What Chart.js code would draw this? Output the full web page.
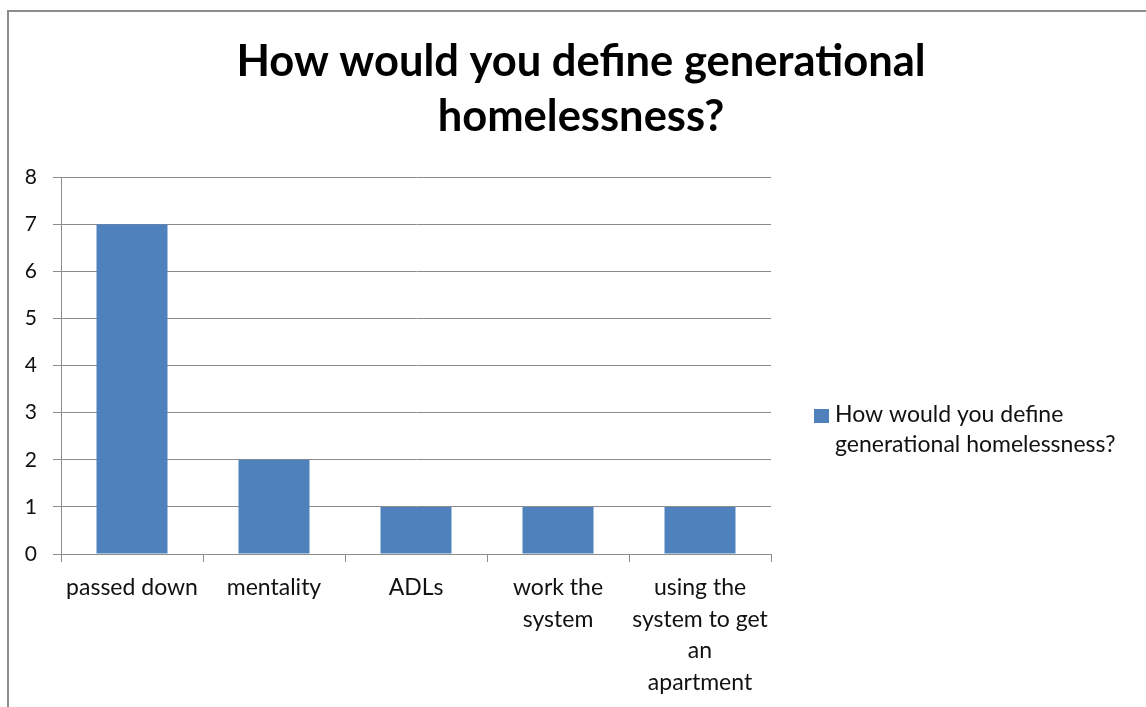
<!DOCTYPE html>
<html>
<head>
<meta charset="utf-8">
<script src="https://cdn.jsdelivr.net/npm/chart.js@4"></script>
<style>
  html, body { margin: 0; padding: 0; background: #fff; overflow: hidden; }
  #frame {
    position: absolute; left: 7px; top: 10px;
    width: 1160px; height: 720px;
    border: 2px solid #8c8c8c;
    box-sizing: border-box;
  }
  #wrap { position: absolute; left: 1px; top: 1px; width: 1146px; height: 696px; }
</style>
</head>
<body>
<div id="frame"><div id="wrap"><canvas id="chart"></canvas></div></div>
<script>
const titleLines = ['How would you define generational', 'homelessness?'];
const seriesName = 'How would you define generational homelessness?';
const legendLines = ['How would you define', 'generational homelessness?'];
const categories = [
  'passed down',
  'mentality',
  'ADLs',
  ['work the', 'system'],
  ['using the', 'system to get', 'an', 'apartment']
];
const counts = [7, 2, 1, 1, 1];
const yTicks = [0, 1, 2, 3, 4, 5, 6, 7, 8];

const barColor = '#4f81bd';
const gridColor = '#8c8c8c';
const textFont = 'Lato, "Open Sans", sans-serif';

// title spans the whole chart width, not just the plot, so draw it here
const wideTitle = {
  id: 'wideTitle',
  afterDraw(chart) {
    const ctx = chart.ctx;
    ctx.save();
    ctx.fillStyle = '#000';
    ctx.font = 'bold 43.5px Lato, "Liberation Sans", sans-serif';
    ctx.textAlign = 'center';
    ctx.textBaseline = 'alphabetic';
    titleLines.forEach((line, i) => {
      ctx.fillText(line, 571, 63 + i * 55);
    });
    ctx.restore();
  }
};

// legend is drawn by hand so the series name can wrap onto two lines
const sideLegend = {
  id: 'sideLegend',
  afterDraw(chart) {
    const ctx = chart.ctx;
    const x = 804, y = 396;
    ctx.save();
    ctx.fillStyle = chart.data.datasets[0].backgroundColor;
    ctx.fillRect(x, y, 15, 14);
    ctx.fillStyle = '#111';
    ctx.font = '23px ' + textFont;
    ctx.textBaseline = 'alphabetic';
    legendLines.forEach((line, i) => {
      ctx.fillText(line, x + 21, y + 13 + i * 30);
    });
    ctx.restore();
  }
};

const chart = new Chart(document.getElementById('chart'), {
  type: 'bar',
  data: {
    labels: categories,
    datasets: [{
      label: seriesName,
      data: counts,
      backgroundColor: barColor,
      barPercentage: 0.5,
      categoryPercentage: 1.0
    }]
  },
  options: {
    responsive: true,
    maintainAspectRatio: false,
    animation: false,
    layout: { padding: { left: 0, right: 385, top: 164, bottom: 0 } },
    plugins: {
      legend: { display: false },
      tooltip: { enabled: false },
      title: { display: false }
    },
    scales: {
      x: {
        grid: {
          drawOnChartArea: false,
          drawTicks: true,
          tickLength: 8,
          color: gridColor,
          offset: true
        },
        border: { color: gridColor, width: 1 },
        ticks: {
          color: '#111',
          font: { family: textFont, size: 23, lineHeight: 1.37 },
          padding: 10,
          maxRotation: 0,
          autoSkip: false
        },
        afterFit(scale) { scale.height = 155; }
      },
      y: {
        min: 0,
        max: 8,
        afterBuildTicks(scale) { scale.ticks = yTicks.map(v => ({ value: v })); },
        grid: { color: gridColor, tickLength: 8, drawTicks: true },
        border: { color: gridColor, width: 1 },
        ticks: {
          color: '#111',
          font: { family: textFont, size: 21 },
          padding: 16
        },
        afterFit(scale) { scale.width = 51; }
      }
    }
  },
  plugins: [wideTitle, sideLegend]
});
</script>
</body>
</html>
